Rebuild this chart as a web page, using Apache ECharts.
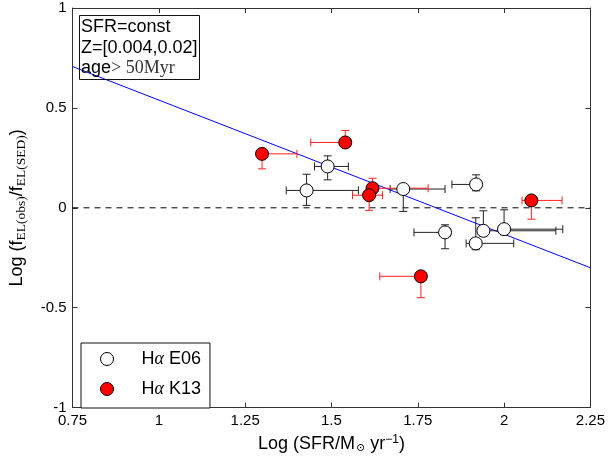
<!DOCTYPE html>
<html>
<head>
<meta charset="utf-8">
<script src="https://cdn.jsdelivr.net/npm/echarts@6/dist/echarts.min.js"></script>
<style>html,body{margin:0;padding:0;background:#fff}#c{width:608px;height:459px}</style>
</head>
<body>
<div id="c"></div>
<script>
// ---- data ----
const xTicks = [0.75, 1, 1.25, 1.5, 1.75, 2, 2.25];
const yTicks = [-1, -0.5, 0, 0.5, 1];

// H-alpha E06 (open circles)
const e06X   = [1.428, 1.489, 1.708, 1.919, 1.829, 1.940, 1.918, 2.000];
const e06Y   = [0.087, 0.207, 0.094, 0.117, -0.123, -0.115, -0.178, -0.107];
const e06XLo = [1.369, 1.451, 1.670, 1.849, 1.739, 1.925, 1.890, 1.985];
const e06XHi = [1.578, 1.549, 1.829, 1.930, 1.845, 2.150, 2.028, 2.170];
const e06YLo = [0.012, 0.140, -0.018, 0.085, -0.205, -0.140, -0.210, -0.135];
const e06YHi = [0.168, 0.260, 0.110, 0.165, -0.085, -0.015, -0.050, -0.010];

// H-alpha K13 (red circles)
const k13X   = [1.299, 1.540, 1.619, 1.609, 2.079, 1.759];
const k13Y   = [0.270, 0.327, 0.098, 0.063, 0.037, -0.343];
const k13XLo = [1.285, 1.440, 1.605, 1.561, 2.052, 1.640];
const k13XHi = [1.400, 1.555, 1.780, 1.648, 2.168, 1.775];
const k13YLo = [0.195, 0.310, 0.080, -0.013, -0.057, -0.450];
const k13YHi = [0.285, 0.387, 0.148, 0.080, 0.050, -0.330];

// fit line and zero reference
const fitX  = [0.75, 2.25];
const fitY  = [0.707, -0.300];
const zeroX = [0.75, 2.25];
const zeroY = [0, 0];

// ---- build ----
const zip = (...a) => a[0].map((_, i) => a.map(arr => arr[i]));
const FONT = 'Liberation Sans, Arial, Helvetica, sans-serif';
const SERIF = 'Liberation Serif, DejaVu Serif, serif';

function errRender(color) {
  return function (params, api) {
    const x = api.value(0), y = api.value(1);
    const L = api.coord([api.value(2), y]), R = api.coord([api.value(3), y]);
    const B = api.coord([x, api.value(4)]), T = api.coord([x, api.value(5)]);
    const cap = 4;
    const st = { stroke: color, lineWidth: 1 };
    const ln = (x1, y1, x2, y2) => ({ type: 'line', shape: { x1, y1, x2, y2 }, style: st });
    return {
      type: 'group',
      children: [
        ln(L[0], L[1], R[0], R[1]),
        ln(B[0], B[1], T[0], T[1]),
        ln(L[0], L[1] - cap, L[0], L[1] + cap),
        ln(R[0], R[1] - cap, R[0], R[1] + cap),
        ln(B[0] - cap, B[1], B[0] + cap, B[1]),
        ln(T[0] - cap, T[1], T[0] + cap, T[1])
      ]
    };
  };
}

const axisLineStyle = { color: '#333', width: 1 };
const tickCommon = { show: true, inside: true, length: 5, lineStyle: { color: '#333' } };

const chart = echarts.init(document.getElementById('c'), null, { renderer: 'canvas' });
chart.setOption({
  animation: false,
  backgroundColor: '#fff',
  textStyle: { fontFamily: FONT },
  grid: { left: 72, right: 16, top: 8, bottom: 50, containLabel: false },
  title: {
    left: 79, top: 15,
    text: 'SFR=const\nZ=[0.004,0.02]\nage{s|> 50Myr}',
    padding: [2, 2, 1, 2],
    borderColor: '#111', borderWidth: 1,
    textStyle: {
      fontFamily: FONT, fontSize: 18, fontWeight: 'normal', color: '#000', lineHeight: 20.5,
      rich: { s: { fontFamily: SERIF, fontSize: 18, color: '#333', lineHeight: 20.5 } }
    }
  },
  legend: {
    orient: 'vertical', left: 81, top: 343,
    padding: [7, 9, 10, 19],
    itemWidth: 13, itemHeight: 13, itemGap: 12,
    borderColor: '#111', borderWidth: 1, backgroundColor: '#fff',
    icon: 'circle',
    itemStyle: { borderWidth: 1, borderColor: '#000' },
    data: ['Hα E06', 'Hα K13'],
    formatter: n => n.replace('α', '{a|α}'),
    textStyle: {
      fontFamily: FONT, fontSize: 18, color: '#000', lineHeight: 14, padding: [0, 0, 0, 23],
      rich: { a: { fontFamily: SERIF, fontStyle: 'italic', fontSize: 18, lineHeight: 14 } }
    }
  },
  xAxis: [{
    type: 'value', min: 0.75, max: 2.25, interval: 0.25, position: 'bottom',
    axisLine: { show: true, onZero: false, lineStyle: axisLineStyle },
    axisTick: tickCommon, splitLine: { show: false },
    axisLabel: { fontFamily: FONT, fontSize: 15, color: '#000', margin: 6 },
    name: 'Log (SFR/M{sub|⊙} yr{sup|−1})',
    nameLocation: 'middle', nameGap: 17,
    nameTextStyle: {
      fontFamily: FONT, fontSize: 18, color: '#000', verticalAlign: 'top',
      rich: {
        sub: { fontFamily: SERIF, fontSize: 11, padding: [9, 0, 0, 1] },
        sup: { fontFamily: FONT, fontSize: 12, padding: [0, 0, 9, 0] }
      }
    }
  }, {
    type: 'value', min: 0.75, max: 2.25, interval: 0.25, position: 'top',
    axisLine: { show: true, onZero: false, lineStyle: axisLineStyle },
    axisTick: tickCommon, axisLabel: { show: false }, splitLine: { show: false }
  }],
  yAxis: [{
    type: 'value', min: -1, max: 1, interval: 0.5, position: 'left',
    axisLine: { show: true, onZero: false, lineStyle: axisLineStyle },
    axisTick: tickCommon, splitLine: { show: false },
    axisLabel: { fontFamily: FONT, fontSize: 15, color: '#000', margin: 6 },
    name: 'Log (f{s|EL(obs)}/f{s|EL(SED)})',
    nameLocation: 'middle', nameGap: 44, nameRotate: 90,
    nameTextStyle: {
      fontFamily: FONT, fontSize: 18, color: '#000',
      rich: { s: { fontFamily: SERIF, fontSize: 13.5, padding: [9, 0, 0, 0] } }
    }
  }, {
    type: 'value', min: -1, max: 1, interval: 0.5, position: 'right',
    axisLine: { show: true, onZero: false, lineStyle: axisLineStyle },
    axisTick: tickCommon, axisLabel: { show: false }, splitLine: { show: false }
  }],
  series: [
    {
      name: 'zero', type: 'line', data: zip(zeroX, zeroY), symbol: 'none', silent: true,
      lineStyle: { color: '#000', width: 1, type: [6, 5] }, z: 1
    },
    {
      name: 'fit', type: 'line', data: zip(fitX, fitY), symbol: 'none', silent: true,
      lineStyle: { color: '#0000ff', width: 1 }, z: 2
    },
    {
      name: 'errE06', type: 'custom', renderItem: errRender('#222'),
      data: zip(e06X, e06Y, e06XLo, e06XHi, e06YLo, e06YHi), z: 3, silent: true
    },
    {
      name: 'errK13', type: 'custom', renderItem: errRender('#ff2020'),
      data: zip(k13X, k13Y, k13XLo, k13XHi, k13YLo, k13YHi), z: 3, silent: true
    },
    {
      name: 'Hα E06', type: 'scatter', data: zip(e06X, e06Y), symbol: 'circle', symbolSize: 13,
      itemStyle: { color: '#fff', borderColor: '#000', borderWidth: 1, opacity: 1 }, z: 5
    },
    {
      name: 'Hα K13', type: 'scatter', data: zip(k13X, k13Y), symbol: 'circle', symbolSize: 13,
      itemStyle: { color: '#ff0000', borderColor: '#000', borderWidth: 1, opacity: 1 }, z: 5
    }
  ]
});
</script>
</body>
</html>
